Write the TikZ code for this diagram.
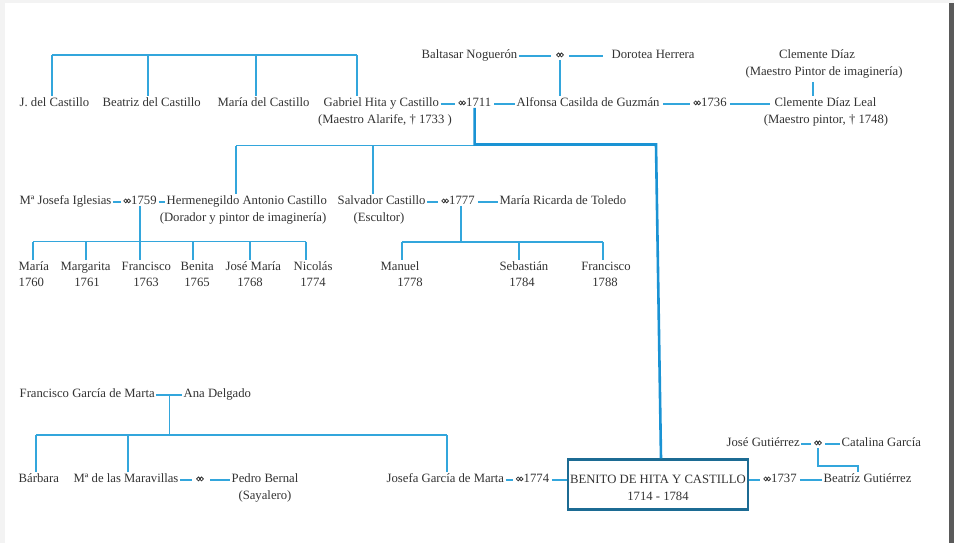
\documentclass[tikz,border=0pt]{standalone}
\usepackage{fontspec}
\setmainfont{Liberation Serif}
\usetikzlibrary{calc}
\definecolor{lnblue}{HTML}{33A6DC}
\definecolor{thkblue}{HTML}{1A93D4}
\definecolor{boxblue}{HTML}{1C6B93}
\definecolor{txt}{HTML}{333333}
\definecolor{pagegray}{HTML}{F3F3F3}
\definecolor{edgegray}{HTML}{5A5A5A}
\newcommand{\mar}{\tikz[x=1pt,y=1pt,baseline={(0,0)}]{\path (-0.6,0) (7.4,0); \draw[txt, line width=0.75pt] (1.9,3.4) circle[radius=1.9] (4.9,3.4) circle[radius=1.9];}}
\begin{document}
\begin{tikzpicture}[x=1pt,y=-1pt,
  every node/.style={font=\fontsize{12.7}{17}\selectfont, text=txt, inner sep=1.5pt},
  nm/.style={anchor=mid west},
  ctr/.style={anchor=mid},
  ln/.style={draw=lnblue, line width=1.2pt},
  thk/.style={draw=thkblue, line width=2.6pt, line join=miter},
  benitobox/.style={draw=boxblue, line width=2.2pt, minimum width=180pt, minimum height=50pt, align=center, inner sep=0pt, font=\fontsize{12.7}{17}\selectfont}]
\useasboundingbox (0,0) rectangle (954,543);
\fill[pagegray] (0,0) rectangle (954,543);
\fill[white] (5,3) rectangle (949,543);
\fill[edgegray] (949,3) rectangle (954,543);

% ---- row 1
\node[nm] (baltasar) at (420,56) {Baltasar Noguerón};
\node[ctr, inner xsep=5pt] (mBN) at (560,56) {\mar};
\node[nm] (dorotea) at (610,56) {Dorotea Herrera};
\node[ctr] (clemD) at (817,56) {Clemente Díaz};
\node[ctr] (clemD2) at (824,73) {(Maestro Pintor de imaginería)};

% ---- row 2
\node[nm] (jdc) at (18,104) {J. del Castillo};
\node[nm] (beatriz) at (101,104) {Beatriz del Castillo};
\node[nm] (maria) at (216,104) {María del Castillo};
\node[nm] (gabriel) at (322,104) {Gabriel Hita y Castillo};
\node[ctr] (gabriel2) at (385,121) {(Maestro Alarife, † 1733 )};
\node[nm, inner xsep=3pt] (m1711) at (455,104) {\mar1711};
\node[nm] (alfonsa) at (515,104) {Alfonsa Casilda de Guzmán};
\node[nm, inner xsep=3pt] (m1736) at (690,104) {\mar1736};
\node[nm] (clemDL) at (773,104) {Clemente Díaz Leal};
\node[ctr] (clemDL2) at (826,121) {(Maestro pintor, † 1748)};

% ---- row 3
\node[nm] (mjosefa) at (18,202) {Mª Josefa Iglesias};
\node[nm, inner xsep=2pt] (m1759) at (121,202) {\mar1759};
\node[nm] (herm) at (165,202) {Hermenegildo Antonio Castillo};
\node[ctr] (herm2) at (243,219) {(Dorador y pintor de imaginería)};
\node[nm] (salv) at (336,202) {Salvador Castillo};
\node[ctr] (salv2) at (379,219) {(Escultor)};
\node[nm, inner xsep=3pt] (m1777) at (438,202) {\mar1777};
\node[nm] (ricarda) at (498,202) {María Ricarda de Toledo};

% ---- row 4 (children)
\node[nm] (ch1) at (17,268) {María};
\node[nm] (y1) at (17,284) {1760};
\node[nm] (ch2) at (59,268) {Margarita};
\node[ctr] (y2) at (87,284) {1761};
\node[nm] (ch3) at (120,268) {Francisco};
\node[ctr] (y3) at (146,284) {1763};
\node[nm] (ch4) at (179,268) {Benita};
\node[ctr] (y4) at (197,284) {1765};
\node[nm] (ch5) at (224,268) {José María};
\node[ctr] (y5) at (250,284) {1768};
\node[nm] (ch6) at (292,268) {Nicolás};
\node[ctr] (y6) at (313,284) {1774};
\node[ctr] (ch7) at (400,268) {Manuel};
\node[ctr] (y7) at (410,284) {1778};
\node[ctr] (ch8) at (524,268) {Sebastián};
\node[ctr] (y8) at (522,284) {1784};
\node[ctr] (ch9) at (606,268) {Francisco};
\node[ctr] (y9) at (605,284) {1788};

% ---- row 5
\node[nm] (fgm) at (18,395) {Francisco García de Marta};
\node[nm] (ana) at (182,395) {Ana Delgado};

% ---- row 6
\node[nm] (barbara) at (17,480) {Bárbara};
\node[nm] (maravillas) at (72,480) {Mª de las Maravillas};
\node[ctr, inner xsep=4pt] (mMP) at (200,480) {\mar};
\node[nm] (pedro) at (230,480) {Pedro Bernal};
\node[ctr] (pedro2) at (265,497) {(Sayalero)};
\node[nm] (josefa) at (385,480) {Josefa García de Marta};
\node[nm, inner xsep=2.5pt] (m1774) at (513,480) {\mar1774};
\node[benitobox] (benito) at (658,484.5) {\rule{0pt}{15.5pt}BENITO DE HITA Y CASTILLO\\[-0.5pt]1714 - 1784};
\node[nm, inner xsep=3pt] (m1737) at (760,480) {\mar1737};
\node[nm] (beatrizG) at (822,480) {Beatríz Gutiérrez};
\node[nm] (joseG) at (725,444) {José Gutiérrez};
\node[ctr, inner xsep=3pt] (mJC) at (818,444) {\mar};
\node[nm] (catalina) at (840,444) {Catalina García};

% ================= connectors
% row 1
\draw[ln] (baltasar.mid east) -- (mBN.mid west);
\draw[ln, shorten >=7pt] (mBN.mid east) -- (dorotea.mid west);
\draw[ln] (mBN.south) -- (mBN.south |- alfonsa.north);
\coordinate (cdA) at (813,82);
\draw[ln] (cdA) -- (cdA |- clemDL.north);

% siblings of Gabriel
\coordinate (s1) at (52,55);
\coordinate (s2) at (148,55);
\coordinate (s3) at (256,55);
\coordinate (s4) at (357,55);
\draw[ln] (s1) -- (s4);
\draw[ln] (s1) -- (s1 |- jdc.north);
\draw[ln] (s2) -- (s2 |- beatriz.north);
\draw[ln] (s3) -- (s3 |- maria.north);
\draw[ln] (s4) -- (s4 |- gabriel.north);

% row 2 marriages
\draw[ln] (gabriel.mid east) -- (m1711.mid west);
\draw[ln] (m1711.mid east) -- (alfonsa.mid west);
\draw[ln, shorten <=2pt] (alfonsa.mid east) -- (m1736.mid west);
\draw[ln, shorten >=3pt] (m1736.mid east) -- (clemDL.mid west);

% children of Gabriel
\coordinate (turn) at (656,144.5);
\coordinate (c1) at (236,145.5);
\coordinate (c2) at (373,145.5);
\draw[ln] (c1) -- (m1711.south |- c1);
\draw[ln] (c1) -- (c1 |- herm.north);
\draw[ln] (c2) -- (c2 |- salv.north);
\draw[thk] (m1711.south) |- (turn) -- ([xshift=3pt]benito.north);

% row 3 marriages
\draw[ln] (mjosefa.mid east) -- (m1759.mid west);
\draw[ln] (m1759.mid east) -- (herm.mid west);
\draw[ln] (salv.mid east) -- (m1777.mid west);
\draw[ln] (m1777.mid east) -- (ricarda.mid west);

% children of Hermenegildo
\coordinate (h1) at (33,241.5);
\coordinate (h2) at (86,241.5);
\coordinate (h4) at (193,241.5);
\coordinate (h5) at (250,241.5);
\coordinate (h6) at (306,241.5);
\draw[ln] (h1) -- (h6);
\draw[ln] (m1759.south) -- (m1759.south |- ch3.north);
\draw[ln] (h1) -- (h1 |- ch1.north);
\draw[ln] (h2) -- (h2 |- ch2.north);
\draw[ln] (h4) -- (h4 |- ch4.north);
\draw[ln] (h5) -- (h5 |- ch5.north);
\draw[ln] (h6) -- (h6 |- ch6.north);

% children of Salvador
\coordinate (k1) at (402,242);
\coordinate (k2) at (519,242);
\coordinate (k3) at (603,242);
\draw[ln] (k1) -- (k3);
\draw[ln] ([xshift=3pt]m1777.south) -- ([xshift=3pt]m1777.south |- k1);
\draw[ln] (k1) -- (k1 |- ch7.north);
\draw[ln] (k2) -- (k2 |- ch8.north);
\draw[ln] (k3) -- (k3 |- ch9.north);

% Francisco García de Marta family
\draw[ln] (fgm.mid east) -- (ana.mid west);
\coordinate (fa) at ($(fgm.mid east)!0.5!(ana.mid west)$);
\coordinate (g1) at (36,435);
\coordinate (g2) at (128,435);
\coordinate (g3) at (447,435);
\draw[ln] (fa) -- (fa |- g1);
\draw[ln] (g1) -- (g3);
\draw[ln] (g1) -- (g1 |- barbara.north);
\draw[ln] (g2) -- (g2 |- maravillas.north);
\draw[ln] (g3) -- (g3 |- josefa.north);

% row 6 marriages
\draw[ln] (maravillas.mid east) -- (mMP.mid west);
\draw[ln, shorten <=2pt] (mMP.mid east) -- (pedro.mid west);
\draw[ln] (josefa.mid east) -- (m1774.mid west);
\draw[ln] (m1774.mid east) -- (m1774.mid east -| benito.west);
\draw[ln] (m1737.mid west -| benito.east) -- (m1737.mid west);
\draw[ln] (m1737.mid east) -- (beatrizG.mid west);
\draw[ln] (joseG.mid east) -- (mJC.mid west);
\draw[ln] (mJC.mid east) -- (catalina.mid west);
\coordinate (jb) at (858,466);
\draw[ln] (mJC.south) |- (jb) -- (jb |- beatrizG.north);
\end{tikzpicture}
\end{document}
